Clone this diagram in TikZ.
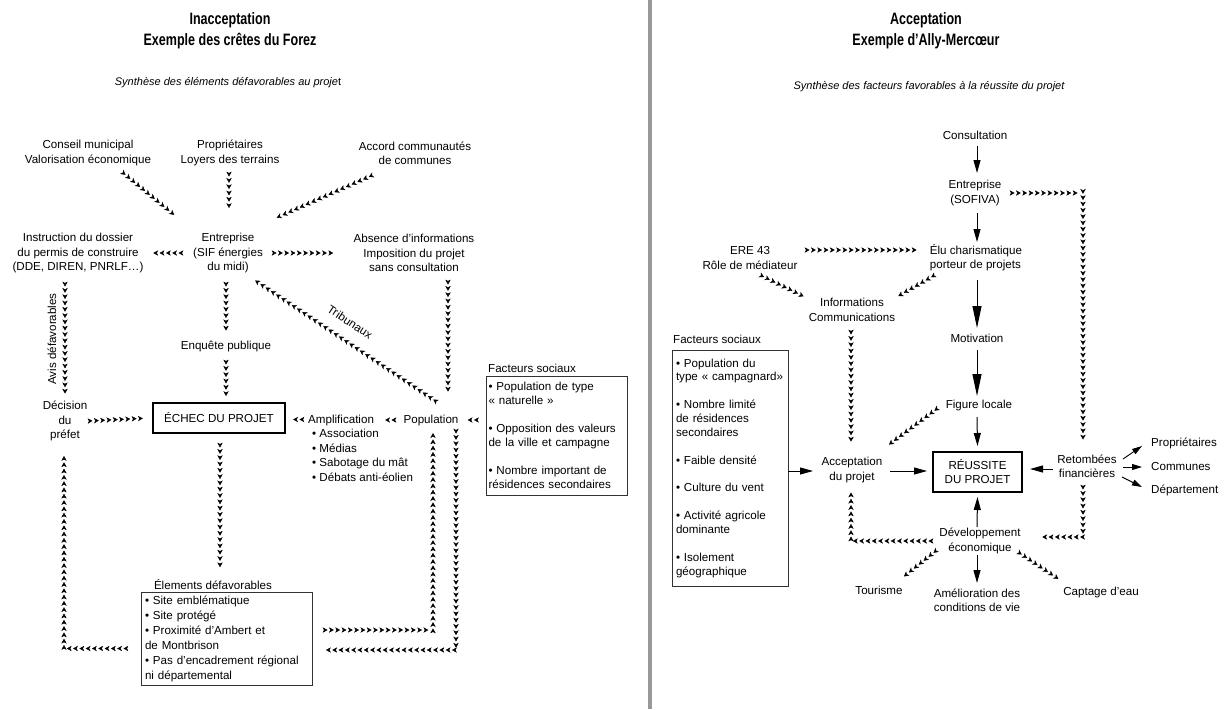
\documentclass[tikz,border=0pt]{standalone}
\usepackage{fontspec}
\setmainfont{Liberation Sans}
\newfontfamily\titlefont{Liberation Sans}[FakeStretch=0.76]
\usetikzlibrary{arrows.meta,decorations.markings,calc}
\newcommand\bodyfs{\fontsize{11.6}{14.3}\selectfont}
\tikzset{
 chainarrow/.style={decorate, decoration={markings, mark=between positions 4.5pt and 1 step 6.3pt with {\arrow{Stealth[length=4.8pt,width=5.3pt,inset=1.3pt]}}}},
 txt/.style={align=center, inner sep=0pt, font=\bodyfs},
 sol/.style={line width=1pt, -{Triangle[length=13pt,width=7pt]}},
 solbig/.style={line width=1pt, -{Triangle[length=22pt,width=9pt]}},
 solsmall/.style={line width=0.9pt, -{Triangle[length=10pt,width=6pt]}},
 thickbox/.style={draw, line width=2.8pt, inner sep=0pt, outer sep=0pt, align=center, font=\bodyfs},
 thinbox/.style={draw=black!80, line width=0.8pt, align=left, outer sep=0pt, inner ysep=0pt},
 titlestyle/.style={align=center, inner sep=0pt, font=\titlefont\bfseries\fontsize{16.5}{21}\selectfont},
 subtitle/.style={inner sep=0pt, font=\itshape\fontsize{11}{13}\selectfont},
}
\begin{document}
\begin{tikzpicture}[x=1pt,y=-1pt]
\useasboundingbox (0,0) rectangle (1228,709);
\fill[white] (0,0) rectangle (1228,709);
\draw[line width=4pt, black!40] (650,0) -- (650,709);

% ---------------- LEFT ----------------
\node[titlestyle] (titleL) at (230,31) {Inacceptation\\Exemple des crêtes du Forez};
\node[subtitle] (subL) at (228,83) {Synthèse des éléments défavorables au proje{\upshape t}};

\node[txt] (conseil) at (88,153) {Conseil municipal\\Valorisation économique};
\node[txt] (prop) at (230,153) {Propriétaires\\Loyers des terrains};
\node[txt] (accord) at (415,153) {Accord communautés\\de communes};
\node[txt] (entr) at (228,253) {Entreprise\\(SIF énergies\\du midi)};
\node[txt] (instr) at (78,253) {Instruction du dossier\\du permis de construire\\(DDE, DIREN, PNRLF…)};
\node[txt] (absence) at (414,253) {Absence d’informations\\Imposition du projet\\sans consultation};
\node[txt] (enq) at (226,346) {Enquête publique};
\node[thickbox, minimum width=132pt, minimum height=30pt] (echec) at (219,418) {ÉCHEC DU PROJET};
\node[txt] (dec) at (65,421) {Décision\\du\\préfet};
\node[inner sep=0pt, align=left, anchor=north west, font=\fontsize{11.6}{14.5}\selectfont] (ampl) at (308,414.5)
 {Amplification\\\hspace*{4pt}• Association\\\hspace*{4pt}• Médias\\\hspace*{4pt}• Sabotage du mât\\\hspace*{4pt}• Débats anti-éolien};
\node[txt] (pop) at (431,420) {Population};
\node[txt, anchor=base west] (fs1lab) at (488,372) {Facteurs sociaux};
\node[thinbox, minimum width=141pt, minimum height=119pt, text width=137pt, inner xsep=2pt, font=\fontsize{11.6}{14}\selectfont] (fs1) at (557,435.5)
 {• Population de type\\« naturelle »\\[14pt]• Opposition des valeurs\\de la ville et campagne\\[14pt]• Nombre important de\\résidences secondaires};
\node[txt] (elemlab) at (213,585) {Élements défavorables};
\node[thinbox, minimum width=171pt, minimum height=93pt, text width=163pt, inner xsep=4pt, font=\fontsize{11.6}{15}\selectfont] (elem) at (226.5,638.5)
 {• Site emblématique\\• Site protégé\\• Proximité d’Ambert et\\de Montbrison\\• Pas d’encadrement régional\\ni départemental};
\node[txt, rotate=90] (avis) at (52,339) {Avis défavorables};
\node[txt, rotate=-33.7] (trib) at (350,322) {Tribunaux};

\path[chainarrow] ($(conseil)+(34,19)$) -- ($(entr)+(-50,-35)$);
\path[chainarrow] ($(prop)+(-1,19)$) -- ($(entr)+(1,-39)$);
\path[chainarrow] ($(accord)+(-42,22)$) -- ($(entr)+(48,-35)$);
\path[chainarrow] ($(entr)+(-45,0)$) -- ($(instr)+(72,0)$);
\path[chainarrow] ($(entr)+(44,0)$) -- ($(absence)+(-76,0)$);
\path[chainarrow] ($(absence)+(34,27)$) -- ($(pop)+(17,-24)$);
\path[chainarrow] ($(pop)+(6,-18)$) -- ($(entr)+(22,24)$);
\path[chainarrow] ($(entr)+(-2,29)$) -- ($(enq)+(0,-14)$);
\path[chainarrow] ($(enq)+(0,14)$) -- ($(echec.north)+(7,-1)$);
\path[chainarrow] ($(echec.south)+(1,10)$) -- ($(elemlab)+(7,-12)$);
\path[chainarrow] ($(instr)+(-13,29)$) -- ($(dec)+(0,-25)$);
\path[chainarrow] ($(dec)+(23,0)$) -- ($(echec.west)+(-4,0)$);
\path[chainarrow] ($(elem.west)+(-13,10)$) -| ($(dec)+(-1,34)$);
\path[chainarrow] ($(ampl.north west)+(-4,5)$) -- ($(echec.east)+(6,1.5)$);
\path[chainarrow] ($(pop)+(-35,0)$) -- ($(ampl.north west)+(74,5.5)$);
\path[chainarrow] ($(fs1.north west)+(-8,44)$) -- ($(pop)+(33,0)$);
\path[chainarrow] ($(pop)+(25,9)$) |- ($(elem.east)+(11,11.5)$);
\path[chainarrow] ($(elem.east)+(11,-8.5)$) -| ($(pop)+(2,9)$);

% ---------------- RIGHT ----------------
\node[titlestyle] (titleR) at (926,31) {Acceptation\\Exemple d’Ally-Mercœur};
\node[subtitle] (subR) at (929,87) {Synthèse des facteurs favorables à la réussite du projet};

\node[txt] (cons) at (975,135) {Consultation};
\node[txt] (sofiva) at (975,193) {Entreprise\\(SOFIVA)};
\node[txt, align=left] (elu) at (976,258) {Élu charismatique\\porteur de projets};
\node[txt] (ere) at (750,258) {ERE 43\\Rôle de médiateur};
\node[txt] (info) at (852,310) {Informations\\Communications};
\node[txt] (motiv) at (977,338) {Motivation};
\node[txt] (figure) at (979,405) {Figure locale};
\node[thickbox, minimum width=89pt, minimum height=40pt, font=\fontsize{11.6}{14}\selectfont] (reuss) at (977.5,472) {RÉUSSITE\\DU PROJET};
\node[txt] (accept) at (852,470) {Acceptation\\du projet};
\node[txt] (retomb) at (1087,466) {Retombées\\financières};
\node[txt, anchor=west] (propr) at (1151,443) {Propriétaires};
\node[txt, anchor=west] (communes) at (1151,467) {Communes};
\node[txt, anchor=west] (dept) at (1151,490) {Département};
\node[txt] (dev) at (980,541) {Développement\\économique};
\node[txt] (amel) at (977,600) {Amélioration des\\conditions de vie};
\node[txt] (tour) at (879,590) {Tourisme};
\node[txt] (capt) at (1101,592) {Captage d’eau};
\node[txt, anchor=base west] (fs2lab) at (673,343) {Facteurs sociaux};
\node[thinbox, minimum width=116pt, minimum height=236pt, text width=108pt, inner xsep=4pt, font=\fontsize{11.6}{13.8}\selectfont] (fs2) at (730,468)
 {• Population du\\type « campagnard»\\[14pt]• Nombre limité\\de résidences\\secondaires\\[14pt]• Faible densité\\[14pt]• Culture du vent\\[14pt]• Activité agricole\\dominante\\[14pt]• Isolement\\géographique};

\path[chainarrow] ($(sofiva)+(35,0)$) -| ($(retomb)+(-4,-24)$);
\path[chainarrow] ($(retomb)+(-4,19)$) |- ($(dev)+(60,-4)$);
\path[chainarrow] ($(ere)+(55,-8)$) -- ($(elu)+(-58,-8)$);
\path[chainarrow] ($(ere)+(10,17)$) -- ($(info)+(-45,-12)$);
\path[chainarrow] ($(elu)+(-41,17)$) -- ($(info)+(43,-12)$);
\path[chainarrow] ($(info)+(-1,20)$) -- ($(accept)+(-1,-28)$);
\path[chainarrow] ($(figure)+(-41,3)$) -- ($(accept)+(35,-24)$);
\path[chainarrow] ($(dev)+(-47,0)$) -| ($(accept)+(-1,22)$);
\path[chainarrow] ($(dev)+(-43,9)$) -- ($(tour)+(23,-12)$);
\path[chainarrow] ($(dev)+(38,11)$) -- ($(capt)+(-38,-10)$);

\draw[sol] ($(cons)+(2,11)$) -- ($(sofiva)+(2,-20)$);
\draw[sol] ($(sofiva)+(2,20)$) -- ($(elu)+(1,-16)$);
\draw[solbig] ($(elu)+(1,22)$) -- ($(motiv)+(0,-10)$);
\draw[solbig] ($(motiv)+(0,12)$) -- ($(figure)+(-2,-9)$);
\draw[sol] ($(figure)+(-2,12)$) -- ($(reuss.north)+(0,-6)$);
\draw[sol] ($(dev)+(-3,-14)$) -- ($(reuss.south)+(0,5)$);
\draw[sol] ($(dev)+(-3,14)$) -- ($(amel)+(0,-17)$);
\draw[sol] ($(fs2.east)+(0,3)$) -- ($(accept)+(-39,1)$);
\draw[sol] ($(accept)+(38,1)$) -- ($(reuss.west)+(-6,-1)$);
\draw[sol] ($(retomb)+(-34,3)$) -- ($(reuss.east)+(8,-3)$);
\draw[solsmall] ($(retomb)+(36,-7)$) -- ($(propr.west)+(-9,3)$);
\draw[solsmall] ($(retomb)+(36,1)$) -- ($(communes.west)+(-9,0)$);
\draw[solsmall] ($(retomb)+(35,11)$) -- ($(dept.west)+(-9,-3)$);
\end{tikzpicture}
\end{document}
